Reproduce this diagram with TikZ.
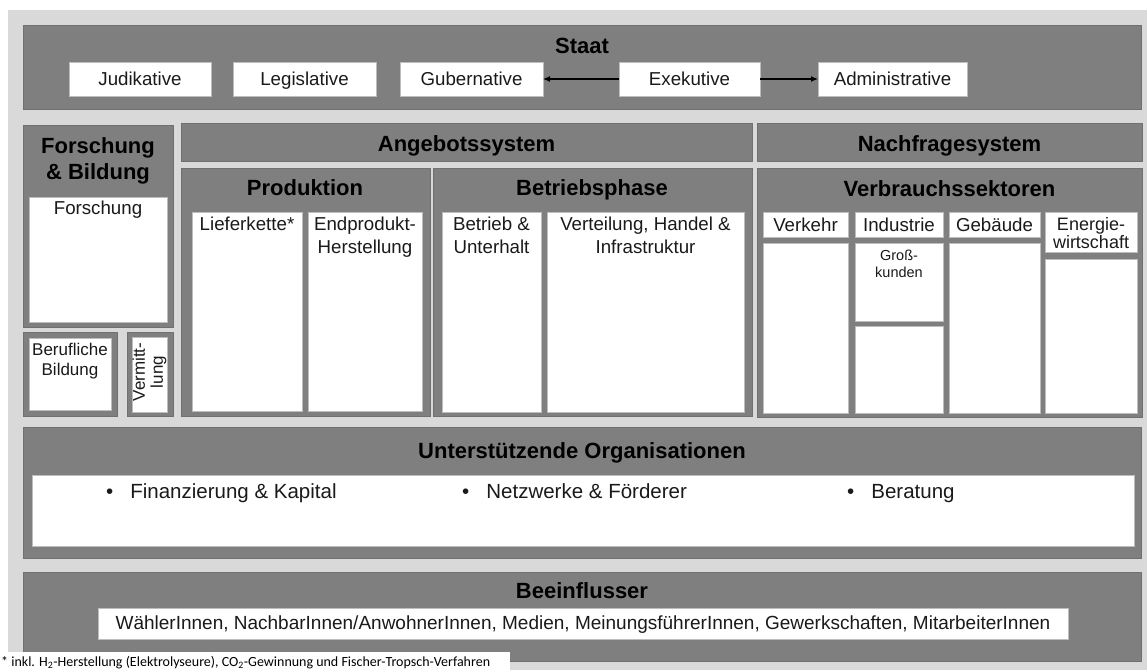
\documentclass[tikz,border=0pt]{standalone}
\usepackage{fontspec}
\setmainfont{Liberation Sans}
\newfontfamily\fnfont{Carlito}
\usetikzlibrary{arrows.meta}
\definecolor{dg}{HTML}{7F7F7F}
\definecolor{lg}{HTML}{D9D9D9}
\definecolor{dgb}{HTML}{707070}
\definecolor{wb}{HTML}{BDBDBD}
\definecolor{tx}{HTML}{1A1A1A}
\newcommand\bx[6]{% name, style, x1,y1,x2,y2
  \node[#2, minimum width={(#5-#3)*1pt}, minimum height={(#6-#4)*1pt}] (#1) at ({(#3+#5)/2},{(#4+#6)/2}) {};}
\tikzset{
  darkbox/.style={fill=dg, draw=dgb, line width=0.8pt, inner sep=0pt, outer sep=0pt},
  whitebox/.style={fill=white, draw=wb, line width=0.6pt, inner sep=0pt, outer sep=0pt},
  ttl/.style={font=\fontsize{22}{26}\selectfont\bfseries, text=black, inner sep=0pt, align=center, anchor=base},
  lbl/.style={font=\fontsize{18.7}{22.5}\selectfont, text=tx, inner sep=0pt, align=center, anchor=base},
  small/.style={font=\fontsize{17}{20}\selectfont, text=tx, inner sep=0pt, align=center, anchor=base},
  tiny/.style={font=\fontsize{14.5}{17}\selectfont, text=tx, inner sep=0pt, align=center, anchor=base},
  bul/.style={font=\fontsize{20.5}{24}\selectfont, text=tx, inner sep=0pt, anchor=base west},
  arr/.style={line width=1.2pt, -{Latex[length=7pt,width=6pt]}}
}
\begin{document}
\begin{tikzpicture}[x=1pt,y=-1pt]
\useasboundingbox (0,0) rectangle (1147,670);
\fill[white] (0,0) rectangle (1147,670);
\fill[lg] (8,10) rectangle (1147,670);

% Staat
\bx{staat}{darkbox}{23}{25}{1141}{109}
\node[ttl] (staatT) at (582,53) {Staat};
\bx{jud}{whitebox}{69}{62}{211}{96}
\bx{leg}{whitebox}{233}{62}{376}{96}
\bx{gub}{whitebox}{400}{62}{543}{96}
\bx{exe}{whitebox}{619}{62}{760}{96}
\bx{adm}{whitebox}{818}{62}{967}{96}
\node[lbl] (judT) at (140,85.5) {Judikative};
\node[lbl] (legT) at (304.5,85.5) {Legislative};
\node[lbl] (gubT) at (471.5,85.5) {Gubernative};
\node[lbl] (exeT) at (689.5,85.5) {Exekutive};
\node[lbl] (admT) at (892.5,85.5) {Administrative};
\draw[arr] (exe.west) -- (gub.east);
\draw[arr] (exe.east) -- (adm.west);

% Forschung & Bildung
\bx{fb}{darkbox}{23}{125}{173}{327}
\node[ttl] (fbT) at (98,179) {Forschung\\\& Bildung};
\bx{fo}{whitebox}{29}{197}{167}{322}
\node[lbl] (foT) at (98,214.5) {Forschung};
\bx{bbd}{darkbox}{23}{332}{117}{416}
\bx{bb}{whitebox}{29}{338}{111}{410}
\node[small] (bbT) at (70,375) {Berufliche\\Bildung};
\bx{vmd}{darkbox}{127}{332}{173}{416}
\bx{vm}{whitebox}{132}{337}{167}{412}
\node[font=\fontsize{17}{18}\selectfont, text=tx, inner sep=0pt, align=center, rotate=90] (vmT) at (149.5,372) {Vermitt-\\lung};

% Angebotssystem
\bx{ang}{darkbox}{181}{123}{752}{161}
\node[ttl] (angT) at (466.5,151) {Angebotssystem};
\bx{prod}{darkbox}{181}{168}{430}{416}
\node[ttl] (prodT) at (305,195.5) {Produktion};
\bx{lief}{whitebox}{192}{212}{302}{411}
\bx{endp}{whitebox}{308}{212}{422}{411}
\node[lbl] (liefT) at (247,230.5) {Lieferkette*};
\node[lbl] (endpT) at (365,253) {Endprodukt-\\Herstellung};
\bx{betr}{darkbox}{433}{168}{752}{416}
\node[ttl] (betrT) at (592,195.5) {Betriebsphase};
\bx{bu}{whitebox}{442}{212}{541}{412}
\bx{vh}{whitebox}{547}{212}{744}{412}
\node[lbl] (buT) at (491.5,253) {Betrieb \&\\Unterhalt};
\node[lbl] (vhT) at (645.5,253) {Verteilung, Handel \&\\Infrastruktur};

% Nachfragesystem
\bx{nach}{darkbox}{757}{123}{1142}{161}
\node[ttl] (nachT) at (949.5,151) {Nachfragesystem};
\bx{vbs}{darkbox}{757}{168}{1142}{417}
\node[ttl] (vbsT) at (949.5,196.5) {Verbrauchssektoren};
\bx{vkH}{whitebox}{763}{212}{848}{237}
\bx{inH}{whitebox}{855}{212}{943}{237}
\bx{gbH}{whitebox}{949}{212}{1040}{237}
\bx{enH}{whitebox}{1045}{212}{1137}{252}
\node[lbl] (vkT) at (805.5,231) {Verkehr};
\node[lbl] (inT) at (899,231) {Industrie};
\node[lbl] (gbT) at (994.5,231) {Gebäude};
\node[lbl, font=\fontsize{18}{18.5}\selectfont] (enT) at (1091,248.5) {Energie-\\wirtschaft};
\bx{vkB}{whitebox}{763}{243}{848}{413}
\bx{inB1}{whitebox}{855}{243}{943}{321}
\bx{inB2}{whitebox}{855}{326}{943}{413}
\bx{gbB}{whitebox}{949}{243}{1040}{413}
\bx{enB}{whitebox}{1045}{259}{1137}{413}
\node[tiny] (gkT) at (899,277) {Groß-\\kunden};

% Unterstuetzende Organisationen
\bx{uo}{darkbox}{23}{427}{1141}{558}
\node[ttl] (uoT) at (582,458) {Unterstützende Organisationen};
\bx{uoW}{whitebox}{32}{475}{1134}{546}
\node[bul] (b1) at (106,498) {•\hspace{17pt}Finanzierung \& Kapital};
\node[bul] (b2) at (462,498) {•\hspace{17pt}Netzwerke \& Förderer};
\node[bul] (b3) at (847,498) {•\hspace{17pt}Beratung};

% Beeinflusser
\bx{be}{darkbox}{23}{572}{1141}{661}
\node[ttl] (beT) at (582,598) {Beeinflusser};
\bx{beW}{whitebox}{98}{608}{1068}{639}
\node[lbl, font=\fontsize{19}{23}\selectfont] (beL) at (583,629) {WählerInnen, NachbarInnen/AnwohnerInnen, Medien, MeinungsführerInnen, Gewerkschaften, MitarbeiterInnen};

% Footnote
\fill[white] (0,652) rectangle (510,670);
\node[anchor=base west, inner sep=0pt, font=\fnfont\fontsize{14}{15}\selectfont, text=black] (fn) at (1,666) {* inkl. H\textsubscript{2}-Herstellung (Elektrolyseure), CO\textsubscript{2}-Gewinnung und Fischer-Tropsch-Verfahren};
\end{tikzpicture}
\end{document}
